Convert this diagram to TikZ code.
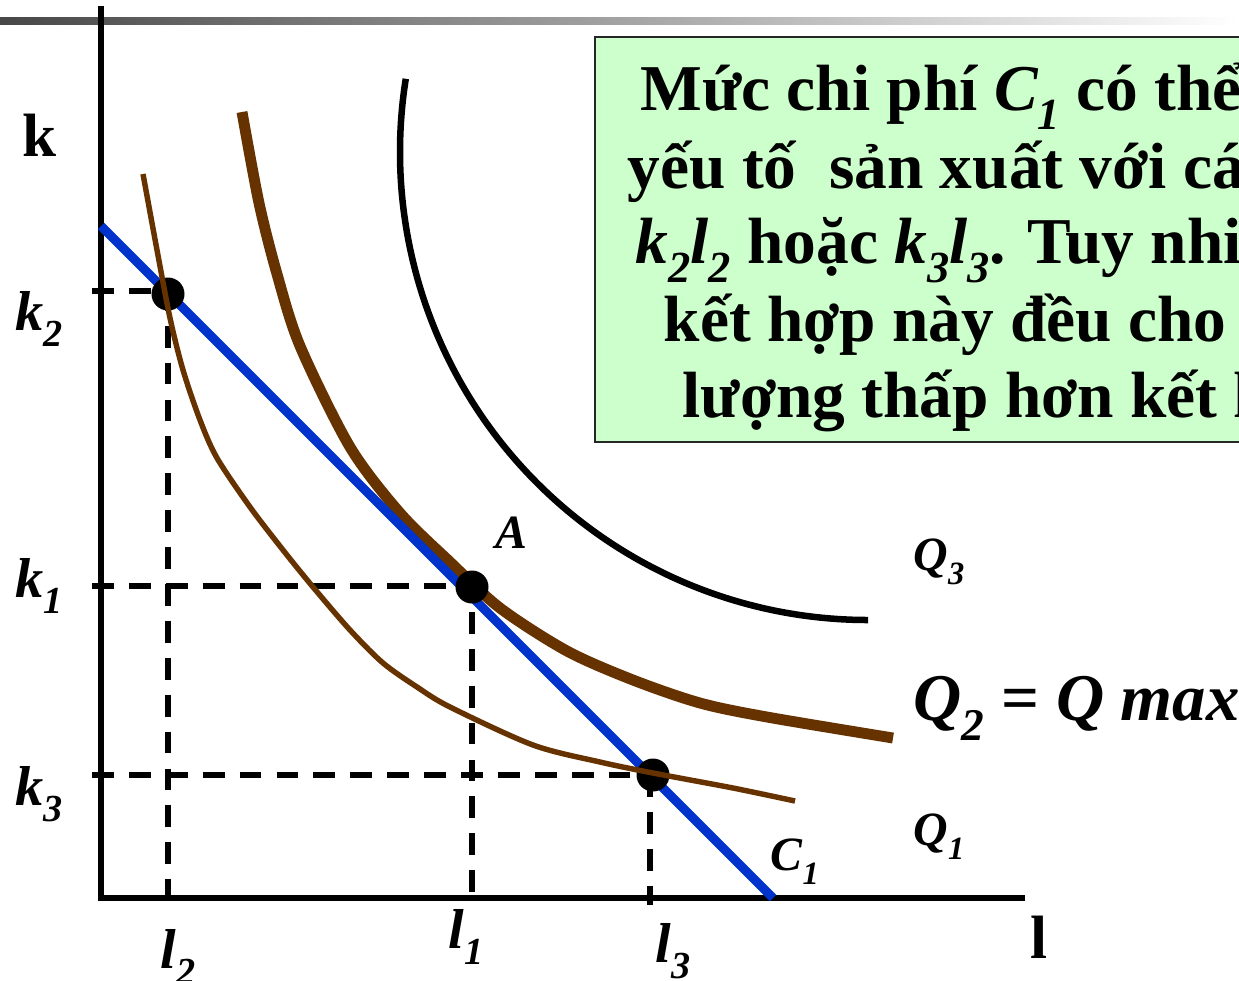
\documentclass[tikz,border=0pt]{standalone}
\usepackage{fontspec}
\setmainfont{Liberation Serif}
\usepackage{tikz}
\usepackage{xcolor}
\definecolor{isobrown}{HTML}{663300}
\definecolor{costblue}{HTML}{0033CC}
\definecolor{notegreen}{HTML}{CCFFCC}
\newcommand{\ix}[2]{#1\raisebox{-0.3em}{\scalebox{0.68}{#2}}}

\begin{document}
\begin{tikzpicture}[
    axis/.style={black, line width=1.5pt},
    guide/.style={black, line width=1.5pt, dash pattern=on 6.2pt off 4.3pt},
    dot/.style={circle, fill=black, inner sep=0pt, minimum size=0.33cm},
    note/.style={anchor=base west, inner sep=0pt, font=\fontsize{18.6}{22}\selectfont\bfseries},
    axlab/.style={anchor=base west, inner sep=0pt, font=\fontsize{17.4}{20}\selectfont\bfseries},
    tick/.style={anchor=base west, inner sep=0pt, font=\fontsize{16}{19}\selectfont\bfseries\itshape},
    lab/.style={anchor=base west, inner sep=0pt, font=\fontsize{13.6}{16}\selectfont\bfseries\itshape}
]
    \useasboundingbox (-1.01,-0.82) rectangle (11.38,8.98);
    \clip (-1.01,-0.82) rectangle (11.38,8.98);
    \shade[left color=black!72, right color=white] (-1.01,8.74) rectangle (11.38,8.81);

    \filldraw[fill=notegreen, draw=black!85, line width=0.7pt] (4.94,4.56) rectangle (11.6,8.61);
    \node[note] (line1) at (5.39,7.88) {Mức chi phí {\itshape\ix{C}{1}} có thể};
    \node[note] (line2) at (5.26,7.10) {yếu tố~ sản xuất với các};
    \node[note] (line3) at (5.34,6.35) {{\itshape\ix{k}{2}\ix{l}{2}} hoặc {\itshape\ix{k}{3}\ix{l}{3}}. Tuy nhiên};
    \node[note] (line4) at (5.62,5.57) {kết hợp này đều cho};
    \node[note] (line5) at (5.81,4.81) {lượng thấp hơn kết hợp};

    \draw[axis] (0,8.92) -- (0,0) -- (9.24,0);
    \draw[axis] (-0.03,0) -- (0,0);
    \node[axlab] (k) at (-0.79,7.42) {k};
    \node[axlab] (l) at (9.29,-0.60) {l};

    \coordinate (pk2) at (0.67,6.04);
    \coordinate (pA) at (3.71,3.11);
    \coordinate (pk3) at (5.52,1.23);
    \draw[guide] (-0.09,6.07) -- (0.67,6.07) -- (0.67,-0.07);
    \draw[guide] (-0.09,3.12) -- (3.71,3.12) -- (3.71,-0.07);
    \draw[guide] (-0.09,1.23) -- (5.52,1.23);
    \draw[guide] (5.49,1.23) -- (5.49,-0.07);

    \node[tick] (k2) at (-0.86,5.68) {\ix{k}{2}};
    \node[tick] (k1) at (-0.86,3.01) {\ix{k}{1}};
    \node[tick] (k3) at (-0.86,0.93) {\ix{k}{3}};
    \node[tick] (l2) at (0.59,-0.70) {\ix{l}{2}};
    \node[tick] (l1) at (3.47,-0.50) {\ix{l}{1}};
    \node[tick] (l3) at (5.54,-0.64) {\ix{l}{3}};

    \draw[black, line width=1.85pt] (7.67,7.46) ++(171:4.68) arc[start angle=171, end angle=270, radius=4.68];
    \draw[isobrown, line width=3.1pt] plot[smooth] coordinates {(1.41,7.86) (1.58,6.95) (1.76,6.24) (1.99,5.52) (2.49,4.51) (2.99,3.85) (3.49,3.36) (3.99,2.90) (4.66,2.47) (5.32,2.18) (5.99,1.95) (6.66,1.81) (7.92,1.60)};
    \draw[costblue, line width=2.55pt] (0,6.72) -- (6.72,0);

    \node[dot] (dk2) at (pk2) {};
    \node[dot] (dA) at (pA) {};
    \node[dot] (dk3) at (pk3) {};

    \draw[isobrown, line width=1.55pt] plot[smooth] coordinates {(0.42,7.24) (0.56,6.48) (0.69,5.80) (0.82,5.28) (0.99,4.78) (1.16,4.40) (1.49,3.91) (1.82,3.48) (2.12,3.11) (2.49,2.68) (2.82,2.35) (3.16,2.11) (3.49,1.91) (4.32,1.53) (4.99,1.36) (5.52,1.25) (6.32,1.10) (6.94,0.97)};

    \node[lab] (A) at (3.94,3.50) {A};
    \node[lab] (C1) at (6.69,0.28) {\ix{C}{1}};
    \node[lab] (Q3) at (8.12,3.28) {\ix{Q}{3}};
    \node[lab] (Q1) at (8.12,0.53) {\ix{Q}{1}};
    \node[anchor=base west, inner sep=0pt, font=\fontsize{19}{22}\selectfont\bfseries] (Q2) at (8.12,1.78) {{\itshape\ix{Q}{2}} = {\itshape Q max}};
\end{tikzpicture}
\end{document}
